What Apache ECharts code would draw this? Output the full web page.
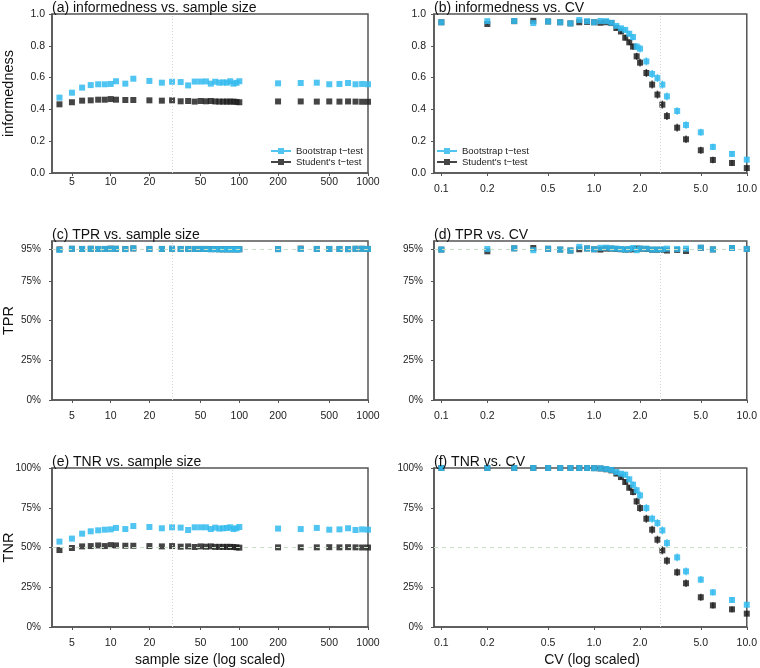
<!DOCTYPE html>
<html><head><meta charset="utf-8">
<script src="https://cdn.jsdelivr.net/npm/echarts@6/dist/echarts.min.js"></script>
<style>html,body{margin:0;padding:0;background:#fff}#c{width:760px;height:668px}</style>
</head><body><div id="c"></div>
<script>
// ---------- data ----------
const sampleSizes = [4,5,6,7,8,9,10,11,13,15,20,25,30,35,40,45,50,55,60,65,70,75,80,85,90,95,100,200,300,400,500,600,700,800,900,1000];
const cvValues = [0.1,0.2,0.3,0.4,0.5,0.6,0.7,0.8,0.9,1.0,1.1,1.2,1.3,1.4,1.5,1.6,1.7,1.8,1.9,2.0,2.2,2.4,2.6,2.8,3.0,3.5,4.0,5,6,8,10];

const sampleTicks = [5,10,20,50,100,200,500,1000];
const cvTicks = [0.1,0.2,0.5,1,2,5,10];
const tprTicks = [0,0.25,0.5,0.75,0.95];

const infoN_boot = [0.474,0.505,0.537,0.553,0.558,0.558,0.560,0.577,0.562,0.593, 0.579,0.568,0.574,0.572,0.551,0.575,0.575,0.576,0.562,0.574, 0.568,0.570,0.568,0.577,0.562,0.567,0.577, 0.564,0.566,0.568,0.558,0.560,0.566,0.558,0.560,0.558];
const infoN_t    = [0.432,0.445,0.455,0.457,0.461,0.461,0.465,0.461,0.459,0.459, 0.457,0.455,0.457,0.451,0.453,0.449,0.453,0.451,0.453,0.450, 0.449,0.449,0.449,0.449,0.449,0.447,0.445, 0.450,0.450,0.449,0.450,0.449,0.450,0.449,0.448,0.448];

const tprN_boot = [0.944,0.951,0.950,0.951,0.950,0.950,0.951,0.951,0.949,0.954, 0.950,0.950,0.951,0.950,0.950,0.950,0.950,0.950,0.948,0.949, 0.948,0.948,0.948,0.948,0.948,0.947,0.948, 0.949,0.950,0.950,0.950,0.950,0.949,0.951,0.951,0.950];
const tprN_t    = [0.947,0.951,0.950,0.951,0.950,0.950,0.952,0.951,0.950,0.953, 0.950,0.950,0.951,0.950,0.950,0.950,0.950,0.950,0.949,0.949, 0.948,0.948,0.948,0.948,0.948,0.948,0.948, 0.949,0.952,0.950,0.950,0.950,0.949,0.951,0.951,0.950];

const tnrN_boot = [0.537,0.556,0.587,0.602,0.608,0.612,0.614,0.623,0.616,0.635, 0.629,0.621,0.627,0.625,0.610,0.627,0.627,0.627,0.616,0.625, 0.619,0.621,0.623,0.627,0.616,0.621,0.629, 0.619,0.616,0.623,0.612,0.614,0.621,0.610,0.614,0.612];
const tnrN_t    = [0.484,0.497,0.507,0.509,0.513,0.509,0.515,0.513,0.511,0.511, 0.509,0.507,0.509,0.505,0.507,0.503,0.507,0.505,0.507,0.504, 0.504,0.504,0.504,0.504,0.503,0.501,0.499, 0.501,0.501,0.501,0.502,0.501,0.502,0.501,0.500,0.500];

const infoCV_boot = [0.948,0.955,0.956,0.943,0.953,0.948,0.941,0.962,0.955,0.948, 0.956,0.955,0.945,0.925,0.910,0.900,0.876,0.855,0.795,0.782, 0.702,0.623,0.597,0.556,0.482, 0.390,0.302, 0.256,0.164,0.120,0.084];
const infoCV_t    = [0.948,0.937,0.955,0.957,0.953,0.948,0.941,0.948,0.950,0.948, 0.945,0.948,0.943,0.912,0.890,0.851,0.822,0.795,0.734,0.694, 0.629,0.556,0.493,0.430,0.358, 0.285,0.212, 0.143,0.082,0.063,0.031];

const tprCV_boot = [0.946,0.950,0.954,0.942,0.951,0.946,0.940,0.963,0.953,0.948, 0.957,0.958,0.954,0.952,0.950,0.946,0.950,0.956,0.942,0.953, 0.952,0.946,0.946,0.948,0.952, 0.950,0.952, 0.958,0.947,0.956,0.950];
const tprCV_t    = [0.946,0.935,0.954,0.956,0.951,0.946,0.940,0.948,0.953,0.948, 0.946,0.952,0.952,0.950,0.948,0.946,0.947,0.948,0.952,0.951, 0.950,0.945,0.945,0.945,0.940, 0.944,0.937, 0.957,0.947,0.956,0.950];

const tnrCV_boot = [1,1,1,1,1,1,1,1,1,0.999, 0.998,0.994,0.988,0.975,0.964,0.958,0.929,0.895,0.860,0.828, 0.748,0.681,0.654,0.608,0.528, 0.438,0.350, 0.298,0.218,0.170,0.140];
const tnrCV_t    = [1,1,1,1,1,1,1,1,1,0.999, 0.997,0.992,0.985,0.965,0.943,0.912,0.876,0.849,0.790,0.748, 0.681,0.612,0.549,0.482,0.417, 0.344,0.275, 0.187,0.136,0.111,0.084];

// half-width of the interval bars in the CV panels
const errCV = [0.006,0.006,0.006,0.006,0.006,0.006,0.006,0.006,0.006,0.006, 0.008,0.008,0.010,0.012,0.015,0.018,0.018,0.020,0.022,0.024, 0.025,0.025,0.025,0.025,0.025, 0.024,0.024, 0.022,0.020,0.018,0.016];

const refSampleSize = 30;
const refCV = 2.7;
const refTPR = 0.95;
const refTNR = 0.5;

const panelTitles = ['(a) informedness vs. sample size','(b) informedness vs. CV','(c) TPR vs. sample size','(d) TPR vs. CV','(e) TNR vs. sample size','(f) TNR vs. CV'];
const yNames = ['informedness','TPR','TNR'];
const xNames = ['sample size (log scaled)','CV (log scaled)'];
const seriesNames = ['Bootstrap t\u2212test', "Student's t\u2212test"];

// ---------- layout / style ----------
const FONT = '"Liberation Sans", Arial, Helvetica, sans-serif';
const BLUE = '#33bbee', BLACK = '#1c1c1c';
const W = 316, H = 159;
const pos = [[52,14],[434,14],[52,241],[434,241],[52,468],[434,468]];

const panels = [
  {xs: sampleSizes, boot: infoN_boot, t: infoN_t, kind:'info'},
  {xs: cvValues, boot: infoCV_boot, t: infoCV_t, kind:'info', err: errCV},
  {xs: sampleSizes, boot: tprN_boot, t: tprN_t, kind:'tpr'},
  {xs: cvValues, boot: tprCV_boot, t: tprCV_t, kind:'tpr'},
  {xs: sampleSizes, boot: tnrN_boot, t: tnrN_t, kind:'tnr'},
  {xs: cvValues, boot: tnrCV_boot, t: tnrCV_t, kind:'tnr', err: errCV}
];

const grid = [], xAxis = [], yAxis = [], series = [], graphic = [];
const pct = v => Math.round(v*100) + '%';

panels.forEach((p, i) => {
  const isN = i % 2 === 0;
  grid.push({left: pos[i][0], top: pos[i][1], width: W, height: H, show: true, borderColor: '#555', borderWidth: 1.5, backgroundColor: 'transparent'});
  const xt = isN ? sampleTicks : cvTicks;
  xAxis.push({
    type: 'log', logBase: 10, gridIndex: i,
    min: isN ? 3.5 : 0.0895, max: isN ? 1000 : 10,
    axisLine: {show: true, lineStyle: {color: '#555', width: 1.5}},
    axisTick: {show: true, length: 3, customValues: xt, lineStyle: {color: '#555'}},
    axisLabel: {customValues: xt, formatter: isN ? (v => String(Math.round(v))) : (v => Number(v).toFixed(1)),
      fontSize: 10.5, color: '#222', fontFamily: FONT, margin: i === 0 ? 4 : 10.5},
    splitLine: {show: false}, minorTick: {show: false}, minorSplitLine: {show: false}
  });
  const y = {type: 'value', gridIndex: i, min: 0, max: 1,
    axisLine: {show: true, lineStyle: {color: '#555', width: 1.5}},
    axisTick: {show: true, length: 3, lineStyle: {color: '#555'}},
    splitLine: {show: false},
    axisLabel: {fontSize: 10.5, color: '#222', fontFamily: FONT, margin: 7}};
  if (p.kind === 'info') {
    y.interval = 0.2; y.axisLabel.formatter = v => v.toFixed(1); y.axisLabel.margin = isN ? 7 : 8;
  } else if (p.kind === 'tpr') {
    y.axisTick.customValues = tprTicks; y.axisLabel.customValues = tprTicks; y.axisLabel.formatter = pct;
    y.axisLabel.fontSize = 10; y.axisLabel.margin = 11;
  } else {
    y.interval = 0.25; y.axisLabel.formatter = pct; y.axisLabel.fontSize = 10; y.axisLabel.margin = 11;
  }
  yAxis.push(y);

  const mlData = [{xAxis: isN ? refSampleSize : refCV, lineStyle: {color: '#d4d4d4', type: [1, 2], width: 1}}];
  if (p.kind === 'tpr') mlData.push({yAxis: refTPR, lineStyle: {color: '#c6e0c6', type: [4, 4], width: 1}});
  if (p.kind === 'tnr') mlData.push({yAxis: refTNR, lineStyle: {color: '#c6e0c6', type: [4, 4], width: 1}});

  const mkErr = (vals, color, name) => ({
    type: 'custom', xAxisIndex: i, yAxisIndex: i, silent: true, z: name === 'b' ? 3 : 2,
    data: p.xs.map((x, k) => [x, vals[k] - p.err[k], vals[k] + p.err[k]]),
    encode: {x: 0, y: [1, 2]},
    renderItem: (params, api) => {
      const a = api.coord([api.value(0), api.value(1)]);
      const b = api.coord([api.value(0), api.value(2)]);
      return {type: 'line', shape: {x1: a[0], y1: a[1], x2: b[0], y2: b[1]},
        style: {stroke: color, lineWidth: 1.5, opacity: 0.8}};
    }
  });

  if (p.err) series.push(mkErr(p.t, BLACK, 't'));
  series.push({
    type: 'scatter', name: seriesNames[1], xAxisIndex: i, yAxisIndex: i, z: 2,
    data: p.xs.map((x, k) => [x, p.t[k]]),
    symbol: 'rect', symbolSize: 6, itemStyle: {color: BLACK, opacity: 0.82},
    markLine: {silent: true, symbol: 'none', label: {show: false}, animation: false, data: mlData}
  });
  if (p.err) series.push(mkErr(p.boot, BLUE, 'b'));
  series.push({
    type: 'scatter', name: seriesNames[0], xAxisIndex: i, yAxisIndex: i, z: 3,
    data: p.xs.map((x, k) => [x, p.boot[k]]),
    symbol: 'rect', symbolSize: 6, itemStyle: {color: BLUE, opacity: 0.85}
  });

  graphic.push({type: 'text', x: pos[i][0], y: pos[i][1] + 1, z: 10,
    style: {text: panelTitles[i], font: '14px ' + FONT, fill: '#111', verticalAlign: 'bottom', align: 'left'}});
});

yNames.forEach((n, r) => {
  graphic.push({type: 'text', x: 8.5, y: pos[r*2][1] + H/2, rotation: Math.PI/2,
    style: {text: n, font: '14.5px ' + FONT, fill: '#111', align: 'center', verticalAlign: 'middle'}});
});
xNames.forEach((n, c) => {
  graphic.push({type: 'text', x: pos[4+c][0] + W/2, y: 660,
    style: {text: n, font: '14px ' + FONT, fill: '#111', align: 'center', verticalAlign: 'middle'}});
});

const ICON = 'path://M0,2.5H7V0.5H13V2.5H20V4.5H13V6.5H7V4.5H0Z';
const mkLegend = (left) => ({
  left: left, top: 146, orient: 'vertical', itemWidth: 20, itemHeight: 7, itemGap: 1, padding: 0,
  selectedMode: false,
  data: [{name: seriesNames[0], icon: ICON}, {name: seriesNames[1], icon: ICON}],
  textStyle: {fontSize: 9.5, fontFamily: FONT, color: '#222'}
});

const chart = echarts.init(document.getElementById('c'), null, {renderer: 'canvas'});
chart.setOption({
  animation: false,
  backgroundColor: '#fff',
  textStyle: {fontFamily: FONT},
  grid, xAxis, yAxis, series, graphic,
  legend: [mkLegend(271), mkLegend(437)]
});
</script></body></html>
